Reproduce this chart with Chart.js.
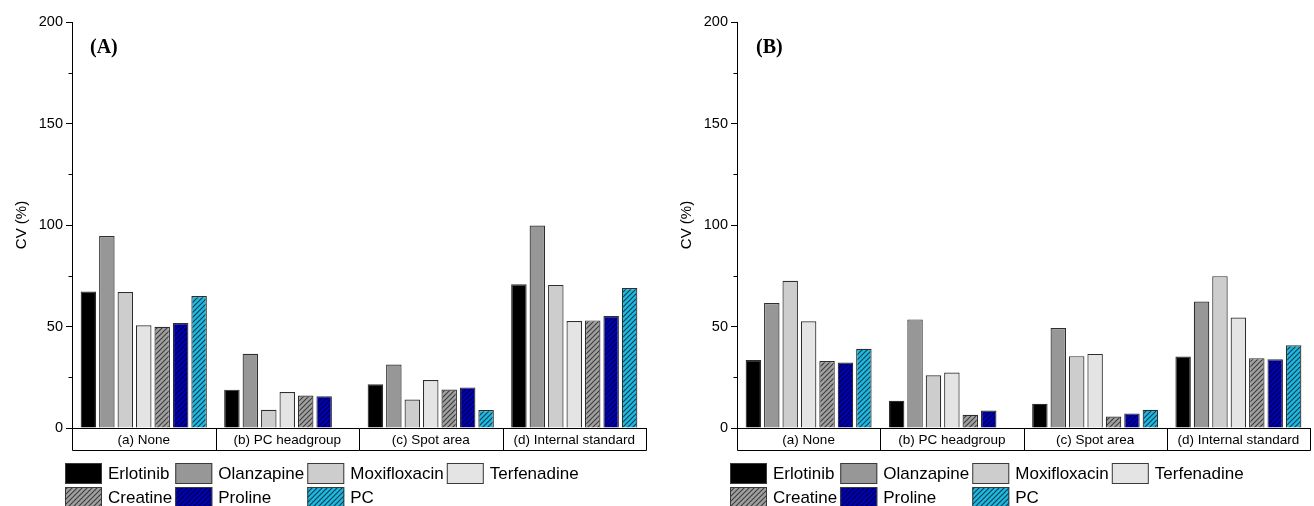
<!DOCTYPE html>
<html>
<head>
<meta charset="utf-8">
<script src="https://cdn.jsdelivr.net/npm/chart.js@4.4.1/dist/chart.umd.min.js"></script>
<style>
  html, body { margin: 0; padding: 0; background: #fff; }
  #wrap { position: relative; width: 1314px; height: 506px; overflow: hidden; }
  .panel { position: absolute; top: 0; width: 657px; height: 506px; }
</style>
</head>
<body>
<div id="wrap">
  <div class="panel" style="left:0"><canvas id="chartA" width="657" height="506"></canvas></div>
  <div class="panel" style="left:657px"><canvas id="chartB" width="657" height="506"></canvas></div>
</div>
<script>
const categories = ['(a) None', '(b) PC headgroup', '(c) Spot area', '(d) Internal standard'];
const seriesNames = ['Erlotinib', 'Olanzapine', 'Moxifloxacin', 'Terfenadine', 'Creatine', 'Proline', 'PC'];
const yMin = 0;
const yMax = 200;

// Panel (A)
const erlotinibA    = [67.3, 18.9, 21.6, 70.8];
const olanzapineA   = [94.6, 36.6, 31.3, 99.7];
const moxifloxacinA = [67.0,  9.0, 14.0, 70.5];
const terfenadineA  = [50.6, 17.7, 23.6, 52.7];
const creatineA     = [49.9, 16.0, 19.0, 53.0];
const prolineA      = [51.7, 15.7, 20.0, 55.2];
const pcA           = [65.0, null,  8.9, 69.0];

// Panel (B)
const erlotinibB    = [33.5, 13.4, 11.9, 35.2];
const olanzapineB   = [61.6, 53.5, 49.2, 62.3];
const moxifloxacinB = [72.5, 26.0, 35.4, 74.8];
const terfenadineB  = [52.6, 27.3, 36.5, 54.4];
const creatineB     = [33.0,  6.5,  5.7, 34.4];
const prolineB      = [32.3,  8.6,  7.2, 33.9];
const pcB           = [39.0, null,  9.0, 40.8];

const FONT = "'Liberation Sans', Arial, sans-serif";

// hatched fill, lines running "/"
function hatch(bg, line) {
    const c = document.createElement('canvas');
    c.width = 5; c.height = 5;
    const g = c.getContext('2d');
    g.fillStyle = bg;
    g.fillRect(0, 0, 5, 5);
    g.strokeStyle = line;
    g.lineWidth = 1.1;
    g.beginPath();
    g.moveTo(0, 5); g.lineTo(5, 0);
    g.moveTo(-2.5, 2.5); g.lineTo(2.5, -2.5);
    g.moveTo(2.5, 7.5); g.lineTo(7.5, 2.5);
    g.stroke();
    return g.createPattern(c, 'repeat');
}

const fills = [
    '#000000',
    '#979797',
    '#cdcdcd',
    '#e4e4e4',
    hatch('#a0a0a0', '#3c3c3c'),
    hatch('#0000b4', '#000040'),
    hatch('#1eb8e0', '#0a3c50')
];

// category boxes under the axis, minor ticks, panel letter and legend
const decoPlugin = {
    id: 'deco',
    afterDraw(chart, args, opts) {
        const ctx = chart.ctx;
        const area = chart.chartArea;
        const x = chart.scales.x;
        const y = chart.scales.y;
        ctx.save();

        // boxes
        ctx.strokeStyle = '#000';
        ctx.lineWidth = 1;
        const top = Math.round(area.bottom) + 0.5;
        const bot = top + 22;
        const w = (x.right - x.left) / categories.length;
        ctx.beginPath();
        ctx.moveTo(Math.round(x.left) + 0.5, top);
        ctx.lineTo(Math.round(x.left) + 0.5, bot);
        ctx.lineTo(Math.round(x.right) + 0.5, bot);
        ctx.lineTo(Math.round(x.right) + 0.5, top);
        for (let i = 1; i < categories.length; i++) {
            const px = Math.round(x.left + i * w) + 0.5;
            ctx.moveTo(px, top);
            ctx.lineTo(px, bot);
        }
        ctx.stroke();

        // minor ticks
        ctx.beginPath();
        y.ticks.forEach((t, i) => {
            if (t.value % 50 !== 0) {
                const py = Math.round(y.getPixelForTick(i)) + 0.5;
                ctx.moveTo(area.left - 3.5, py);
                ctx.lineTo(area.left, py);
            }
        });
        ctx.stroke();

        // panel letter
        ctx.fillStyle = '#000';
        ctx.font = "bold 20px 'Liberation Serif', 'Times New Roman', serif";
        ctx.textBaseline = 'middle';
        ctx.textAlign = 'left';
        ctx.fillText(opts.letter, area.left + opts.letterDx, 48);

        // legend, 4 columns x 2 rows
        ctx.font = '17px ' + FONT;
        const sw = 37, sh = 21;
        const rows = [463, 487];
        const cols = 4;
        const items = chart.data.datasets;
        let cx = area.left + opts.legendDx;
        for (let c = 0; c < cols; c++) {
            let maxW = 0;
            for (let r = 0; r < rows.length; r++) {
                const ds = items[r * cols + c];
                if (!ds) continue;
                ctx.fillStyle = ds.backgroundColor;
                ctx.fillRect(cx, rows[r], sw, sh);
                ctx.strokeStyle = '#3a3a3a';
                ctx.strokeRect(cx + 0.5, rows[r] + 0.5, sw - 1, sh - 1);
                ctx.fillStyle = '#000';
                ctx.fillText(ds.label, cx + sw + 6, rows[r] + sh / 2 + 1);
                maxW = Math.max(maxW, ctx.measureText(ds.label).width);
            }
            cx += sw + 6 + maxW + 3;
        }
        ctx.restore();
    }
};

function makeChart(id, series, cfg) {
    return new Chart(document.getElementById(id), {
        type: 'bar',
        data: {
            labels: categories,
            datasets: seriesNames.map((name, i) => ({
                label: name,
                data: series[i],
                backgroundColor: fills[i],
                borderColor: '#2e2e2e',
                borderWidth: 1.2,
                categoryPercentage: 0.9,
                barPercentage: 0.84
            }))
        },
        options: {
            responsive: false,
            animation: false,
            layout: { padding: { left: 0, right: cfg.padRight, top: 22, bottom: 56 } },
            plugins: {
                legend: { display: false },
                tooltip: { enabled: false },
                deco: { letter: cfg.letter, letterDx: cfg.letterDx, legendDx: -7 }
            },
            scales: {
                x: {
                    grid: { display: false, drawTicks: false },
                    border: { color: '#000', width: 1 },
                    ticks: { color: '#000', font: { family: FONT, size: 13.5 }, padding: 4, maxRotation: 0, autoSkip: false },
                    afterFit(s) { s.height = 22; }
                },
                y: {
                    min: yMin,
                    max: yMax,
                    ticks: {
                        stepSize: 25,
                        autoSkip: false,
                        color: '#000',
                        font: { family: FONT, size: 14.5 },
                        padding: 3,
                        callback: v => (v % 50 === 0 ? v : '')
                    },
                    grid: {
                        drawOnChartArea: false,
                        tickLength: 6,
                        tickColor: c => (c.tick && c.tick.value % 50 === 0 ? '#000' : 'rgba(0,0,0,0)')
                    },
                    border: { color: '#000', width: 1 },
                    title: {
                        display: true,
                        text: 'CV (%)',
                        color: '#000',
                        font: { family: FONT, size: 15 },
                        padding: { top: cfg.titlePad, bottom: 0 }
                    },
                    afterFit(s) { s.width = cfg.axisWidth; }
                }
            }
        },
        plugins: [decoPlugin]
    });
}

makeChart('chartA',
    [erlotinibA, olanzapineA, moxifloxacinA, terfenadineA, creatineA, prolineA, pcA],
    { axisWidth: 72, padRight: 11, letter: '(A)', letterDx: 18, titlePad: 13 });

makeChart('chartB',
    [erlotinibB, olanzapineB, moxifloxacinB, terfenadineB, creatineB, prolineB, pcB],
    { axisWidth: 80, padRight: 4, letter: '(B)', letterDx: 19, titlePad: 21 });
</script>
</body>
</html>
